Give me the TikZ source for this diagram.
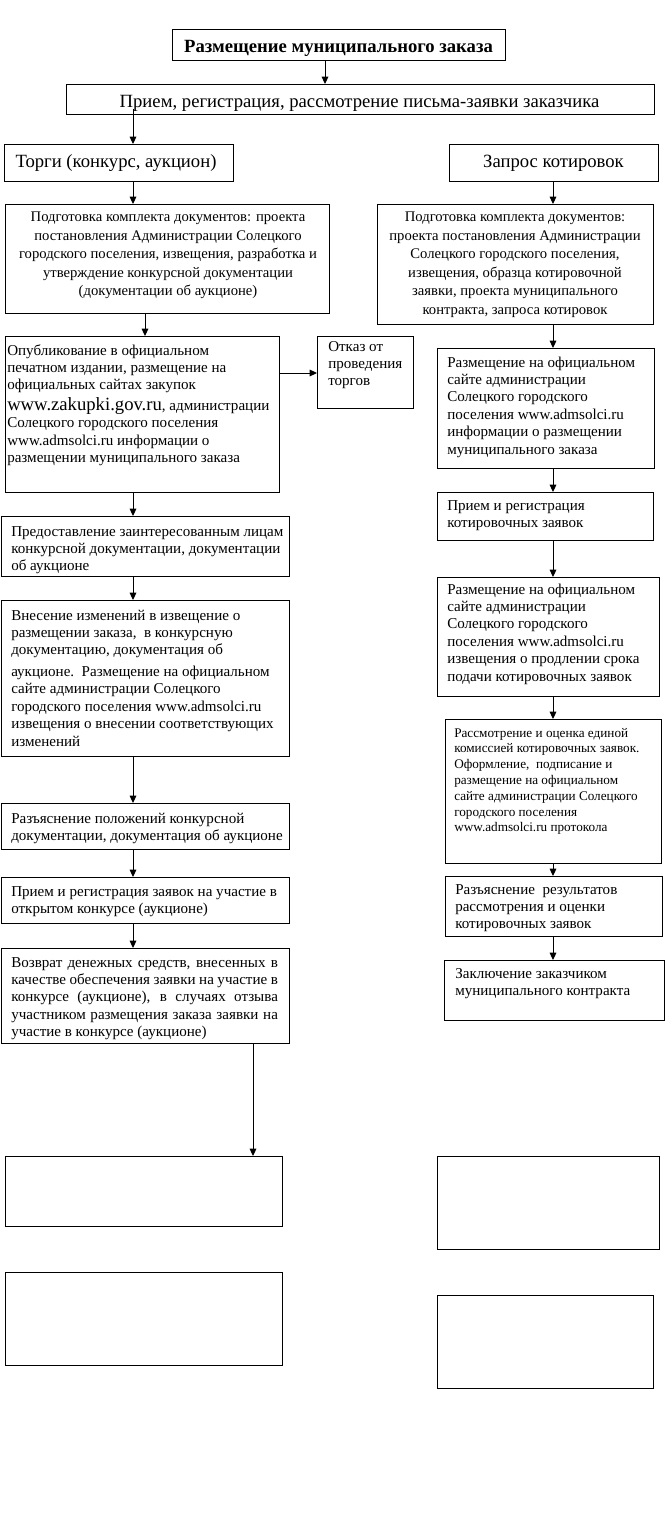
\documentclass[tikz,border=0pt]{standalone}
\usepackage{fontspec}
\setmainfont{Liberation Serif}
\usetikzlibrary{arrows.meta,calc}
\newcommand\fs{\fontsize{11.3}{13.1}\selectfont}
\newcommand\fsw{\fontsize{11}{13.9}\selectfont}
\newcommand\fss{\fontsize{9.9}{11.85}\selectfont}
\newcommand\fsh{\fontsize{14}{16}\selectfont}
\newcommand\tl[2]{\parbox[t]{#1}{\raggedright #2}}
\newcommand\tc[2]{\parbox[t]{#1}{\centering #2}}
\newcommand\jl[1]{\makebox[\linewidth][s]{#1}}
\newcommand\bx[5]{\node[boxst, minimum width={(#4-#2)*0.75pt}, minimum height={(#5-#3)*0.75pt}] (#1) at (#2,#3) {};}
\tikzset{
  boxst/.style={draw, line width=0.95pt, rectangle, inner sep=0pt, anchor=north west},
  txt/.style={inner sep=0pt, anchor=base west, font=\fs},
  ctxt/.style={inner sep=0pt, anchor=base, font=\fs},
  arr/.style={line width=0.75pt, -{Triangle[length=5.5pt,width=5pt]}},
}
\begin{document}
\begin{tikzpicture}[x=0.75pt,y=-0.75pt]
\useasboundingbox (0,0) rectangle (668,1516);
% boxes
\bx{b1}{172}{29}{505}{60}
\bx{b2}{66}{84}{654}{114}
\bx{b3}{4}{144}{233}{181}
\bx{b4}{449}{144}{658}{181}
\bx{b5}{5}{204}{329}{313}
\bx{b6}{377}{204}{653}{324}
\bx{b7}{5}{336}{279}{492}
\bx{b8}{317}{336}{413}{408}
\bx{b9}{437}{348}{654}{468}
\bx{b10}{437}{492}{653}{540}
\bx{b11}{437}{577}{659}{696}
\bx{b12}{445}{719}{661}{863}
\bx{b13}{445}{876}{662}{936}
\bx{b14}{444}{960}{664}{1020}
\bx{b15}{1}{516}{289}{576}
\bx{b16}{1}{600}{289}{756}
\bx{b17}{1}{803}{289}{849}
\bx{b18}{1}{877}{289}{923}
\bx{b19}{1}{948}{289}{1043}
\bx{b20}{5}{1156}{282}{1226}
\bx{b21}{437}{1156}{659}{1249}
\bx{b22}{5}{1272}{282}{1365}
\bx{b23}{437}{1295}{653}{1388}
% texts
\node[ctxt, font=\fsh\bfseries] (t1) at (338.5,52.5) {Размещение муниципального заказа};
\node[ctxt, font=\fsh] (t2) at (359.5,107.5) {Прием, регистрация, рассмотрение письма-заявки заказчика};
\node[ctxt, font=\fsh] (t3) at (116,167.5) {Торги (конкурс, аукцион)};
\node[ctxt, font=\fsh] (t4) at (553.5,167.5) {Запрос котировок};
\node[ctxt, font=\fsw] (t5) at (168,221.5) {\tc{240pt}{Подготовка комплекта документов: проекта\\ постановления Администрации Солецкого\\ городского поселения, извещения, разработка и\\ утверждение конкурсной документации\\ (документации об аукционе)}};
\node[ctxt, font=\fsw] (t6) at (515,221.5) {\tc{240pt}{Подготовка комплекта документов:\\ проекта постановления Администрации\\ Солецкого городского поселения,\\ извещения, образца котировочной\\ заявки, проекта муниципального\\ контракта, запроса котировок}};
\node[txt] (t7) at (7,355) {\tl{220pt}{Опубликование в официальном\\ печатном издании, размещение на\\ официальных сайтах закупок\\[2pt] {\fontsize{14}{14}\selectfont www.zakupki.gov.ru}, администрации\\ Солецкого городского поселения\\ www.admsolci.ru информации о\\ размещении муниципального заказа}};
\node[txt] (t8) at (328,351) {\tl{80pt}{Отказ от\\ проведения\\ торгов}};
\node[txt] (t9) at (447,367) {\tl{170pt}{Размещение на официальном\\ сайте администрации\\ Солецкого городского\\ поселения www.admsolci.ru\\ информации о размещении\\ муниципального заказа}};
\node[txt] (t10) at (447,510) {\tl{170pt}{Прием и регистрация\\ котировочных заявок}};
\node[txt] (t11) at (447,594) {\tl{170pt}{Размещение на официальном\\ сайте администрации\\ Солецкого городского\\ поселения www.admsolci.ru\\ извещения о продлении срока\\ подачи котировочных заявок}};
\node[txt, font=\fss] (t12) at (454,737) {\tl{170pt}{Рассмотрение и оценка единой\\ комиссией котировочных заявок.\\ Оформление,\ \ подписание и\\ размещение на официальном\\ сайте администрации Солецкого\\ городского поселения\\ www.admsolci.ru протокола}};
\node[txt] (t13) at (455,894) {\tl{170pt}{Разъяснение\ \ результатов\\ рассмотрения и оценки\\ котировочных заявок}};
\node[txt] (t14) at (455,978) {\tl{170pt}{Заключение заказчиком\\ муниципального контракта}};
\node[txt] (t15) at (11,536) {\tl{220pt}{Предоставление заинтересованным лицам\\ конкурсной документации, документации\\ об аукционе}};
\node[txt] (t16) at (11,620) {\tl{220pt}{Внесение изменений в извещение о\\ размещении заказа,\ \ в конкурсную\\ документацию, документация об\\[3pt] аукционе.\ \ Размещение на официальном\\ сайте администрации Солецкого\\ городского поселения www.admsolci.ru\\ извещения о внесении соответствующих\\ изменений}};
\node[txt] (t17) at (11,823) {\tl{220pt}{Разъяснение положений конкурсной\\ документации, документация об аукционе}};
\node[txt] (t18) at (11,896) {\tl{220pt}{Прием и регистрация заявок на участие в\\ открытом конкурсе (аукционе)}};
\node[txt] (t19) at (11,967) {\parbox[t]{200pt}{\jl{Возврат денежных средств, внесенных в}\\ \jl{качестве обеспечения заявки на участие в}\\ \jl{конкурсе (аукционе), в случаях отзыва}\\ \jl{участником размещения заказа заявки на}\\ участие в конкурсе (аукционе)}};
% arrows
\draw[arr] (b1.south -| 325,0) -- (b2.north -| 325,0);
\draw[arr] ($(b2.south -| 133,0)+(0,-6)$) -- (b3.north -| 133,0);
\draw[arr] (b3.south -| 133,0) -- (b5.north -| 133,0);
\draw[arr] (b4.south -| 553,0) -- (b6.north -| 553,0);
\draw[arr] (b5.south -| 145,0) -- (b7.north -| 145,0);
\draw[arr] (b7.east |- 0,373) -- (b8.west |- 0,373);
\draw[arr] (b6.south -| 553,0) -- (b9.north -| 553,0);
\draw[arr] (b9.south -| 553,0) -- (b10.north -| 553,0);
\draw[arr] (b10.south -| 553,0) -- (b11.north -| 553,0);
\draw[arr] (b11.south -| 553,0) -- (b12.north -| 553,0);
\draw[arr] (b12.south -| 553,0) -- (b13.north -| 553,0);
\draw[arr] (b13.south -| 553,0) -- (b14.north -| 553,0);
\draw[arr] (b7.south -| 133,0) -- (b15.north -| 133,0);
\draw[arr] (b15.south -| 133,0) -- (b16.north -| 133,0);
\draw[arr] (b16.south -| 133,0) -- (b17.north -| 133,0);
\draw[arr] (b17.south -| 133,0) -- (b18.north -| 133,0);
\draw[arr] (b18.south -| 133,0) -- (b19.north -| 133,0);
\draw[arr] (b19.south -| 253,0) -- (b20.north -| 253,0);
\end{tikzpicture}
\end{document}
